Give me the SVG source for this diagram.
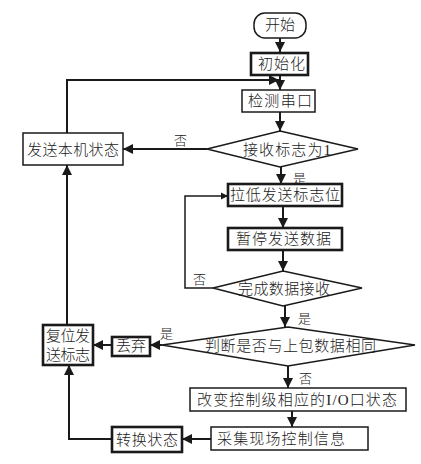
<svg xmlns="http://www.w3.org/2000/svg" width="421" height="464" viewBox="0 0 421 464">
<style>
.b{fill:#fff;stroke:#1a1a1a;stroke-width:1.5}
.tb{fill:#fff;stroke:#1a1a1a;stroke-width:2.6}
.t{font-family:"Liberation Serif","Noto Sans CJK SC",serif;font-size:15px;fill:#1a1a1a;font-weight:300}
.l{font-family:"Liberation Serif","Noto Sans CJK SC",serif;font-size:13px;fill:#1a1a1a;font-weight:300}
.c{fill:none;stroke:#1a1a1a;stroke-width:2}
</style>
<defs>
<marker id="a" viewBox="0 0 10 10" refX="10" refY="5" markerWidth="5" markerHeight="5" orient="auto" markerUnits="strokeWidth">
<path d="M0,0 L10,5 L0,10 z" fill="#1a1a1a"/>
</marker>
</defs>
<g id="connectors">
<path class="c" d="M280,38 V52" marker-end="url(#a)"/>
<path class="c" d="M280,75 V90" marker-end="url(#a)"/>
<path class="c" d="M67,133 V80 H279" marker-end="url(#a)"/>
<path class="c" d="M280,112 V131" marker-end="url(#a)"/>
<path class="c" d="M207,149 H123" marker-end="url(#a)"/>
<path class="c" d="M281,167 V184" marker-end="url(#a)"/>
<path class="c" d="M283,206 V228" marker-end="url(#a)"/>
<path class="c" d="M283,250 V271" marker-end="url(#a)"/>
<path class="c" d="M213,288 H185 V196 H228" marker-end="url(#a)" style="stroke-width:1.5"/>
<path class="c" d="M285,306 V327" marker-end="url(#a)"/>
<path class="c" d="M162,345 H150" marker-end="url(#a)"/>
<path class="c" d="M112,345 H93" marker-end="url(#a)"/>
<path class="c" d="M67,325 V165" marker-end="url(#a)"/>
<path class="c" d="M288,366 V388" marker-end="url(#a)"/>
<path class="c" d="M292,411 V427" marker-end="url(#a)"/>
<path class="c" d="M211,439 H182" marker-end="url(#a)"/>
<path class="c" d="M112,439 H69 V365" marker-end="url(#a)"/>
</g>
<g id="start">
<rect class="b" x="254" y="13" width="52" height="25" rx="11"/>
<text class="t" x="265" y="30" textLength="30" lengthAdjust="spacing">开始</text>
</g>
<g id="init">
<rect class="tb" x="251" y="53" width="57" height="22"/>
<text class="t" x="258" y="69" textLength="47" lengthAdjust="spacing">初始化</text>
</g>
<g id="detect">
<rect class="b" x="242" y="90" width="73" height="22"/>
<text class="t" x="248" y="106" textLength="64" lengthAdjust="spacing">检测串口</text>
</g>
<g id="recvflag">
<polygon class="b" points="280,131 358,149 280,167 207,149"/>
<text class="t" x="243" y="155" textLength="88" lengthAdjust="spacing">接收标志为1</text>
</g>
<g id="sendstate">
<rect class="b" x="23" y="133" width="100" height="32"/>
<text class="t" x="27" y="155" textLength="92" lengthAdjust="spacing">发送本机状态</text>
</g>
<g id="lower">
<rect class="tb" x="228" y="184" width="114" height="22"/>
<text class="t" x="230" y="200" textLength="110" lengthAdjust="spacing">拉低发送标志位</text>
</g>
<g id="pause">
<rect class="tb" x="228" y="228" width="114" height="22"/>
<text class="t" x="236" y="244" textLength="95" lengthAdjust="spacing">暂停发送数据</text>
</g>
<g id="complete">
<polygon class="b" points="283,271 362,288 283,306 213,288"/>
<text class="t" x="238" y="294" textLength="92" lengthAdjust="spacing">完成数据接收</text>
</g>
<g id="judge">
<polygon class="b" points="288,327 415,345 288,366 162,345"/>
<text class="t" x="205" y="351" textLength="171" lengthAdjust="spacing">判断是否与上包数据相同</text>
</g>
<g id="discard">
<rect class="tb" x="112" y="337" width="38" height="19"/>
<text class="t" x="116" y="351" textLength="30" lengthAdjust="spacing">丢弃</text>
</g>
<g id="reset">
<rect class="tb" x="43" y="325" width="50" height="40"/>
<text class="t" x="46" y="341" textLength="44" lengthAdjust="spacing">复位发</text>
<text class="t" x="46" y="360" textLength="44" lengthAdjust="spacing">送标志</text>
</g>
<g id="change">
<rect class="b" x="190" y="388" width="216" height="23"/>
<text class="t" x="197" y="405" textLength="200" lengthAdjust="spacing">改变控制级相应的I/O口状态</text>
</g>
<g id="collect">
<rect class="b" x="211" y="427" width="157" height="23"/>
<text class="t" x="217" y="444" textLength="128" lengthAdjust="spacing">采集现场控制信息</text>
</g>
<g id="convert">
<rect class="tb" x="112" y="427" width="70" height="25"/>
<text class="t" x="116" y="445" textLength="62" lengthAdjust="spacing">转换状态</text>
</g>
<g id="labels">
<text class="l" x="174" y="145">否</text>
<text class="l" x="293" y="183">是</text>
<text class="l" x="193" y="284">否</text>
<text class="l" x="298" y="323">是</text>
<text class="l" x="160" y="338">是</text>
<text class="l" x="299" y="383">否</text>
</g>
</svg>
